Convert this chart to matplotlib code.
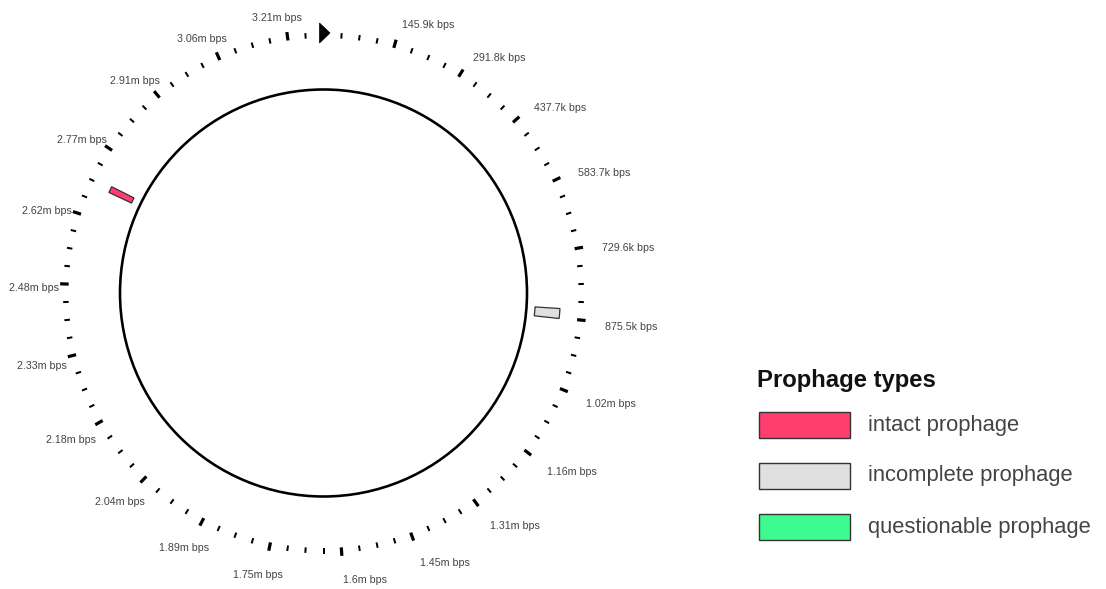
import numpy as np
import matplotlib
matplotlib.use("Agg")
import matplotlib.pyplot as plt
from matplotlib.patches import Polygon, Circle, Rectangle

# Genome and tick layout
genome_length = 3_282_750          # bp
minor_ticks_per_turn = 90
major_every = 4

tick_labels = [
    "145.9k bps", "291.8k bps", "437.7k bps", "583.7k bps", "729.6k bps",
    "875.5k bps", "1.02m bps", "1.16m bps", "1.31m bps", "1.45m bps",
    "1.6m bps", "1.75m bps", "1.89m bps", "2.04m bps", "2.18m bps",
    "2.33m bps", "2.48m bps", "2.62m bps", "2.77m bps", "2.91m bps",
    "3.06m bps", "3.21m bps",
]

# Prophage regions
prophage_start = [2_691_000, 855_000]
prophage_end = [2_705_000, 877_000]
prophage_type = ["intact", "incomplete"]

legend_types = ["intact", "incomplete", "questionable"]
legend_labels = ["intact prophage", "incomplete prophage", "questionable prophage"]
type_colors = {"intact": "#ff3d6e", "incomplete": "#e0e0e0", "questionable": "#3dfb8f"}

W, H = 1106, 589
CX, CY = 323.5, 293.0   # circle centre in pixels (from top-left)

fig = plt.figure(figsize=(W / 100, H / 100), dpi=100)
ax = fig.add_axes([0, 0, 1, 1])
ax.set_xlim(-CX, W - CX)
ax.set_ylim(-(H - CY), CY)
ax.axis("off")

PT = 72 / 100  # points per pixel


def bp_angle(bp):
    return 2 * np.pi * np.asarray(bp, dtype=float) / genome_length


def polar(r, theta):
    return r * np.sin(theta), r * np.cos(theta)


def px(x, y):
    return x - CX, CY - y


# backbone circle
ax.add_patch(Circle((0, 0), 203.5, fill=False, ec="black", lw=2.6 * PT))

# ticks
R_TICK_IN = 255.0
step = genome_length / minor_ticks_per_turn
for i in range(1, minor_ticks_per_turn):
    th = bp_angle(i * step)
    major = i % major_every == 0
    length = 8.5 if major else 5.5
    lw = 3.2 if major else 2.0
    x0, y0 = polar(R_TICK_IN, th)
    x1, y1 = polar(R_TICK_IN + length, th)
    ax.plot([x0, x1], [y0, y1], color="black", lw=lw * PT, solid_capstyle="butt")

# origin marker
ox, oy = polar(260.0, 0.0)
ax.add_patch(Polygon([(ox - 4, oy + 10), (ox - 4, oy - 10), (ox + 6.5, oy)],
                     closed=True, fc="black", ec="black", lw=0.5))

# tick labels
R_LAB = 283.0
for k, lab in enumerate(tick_labels, start=1):
    th = bp_angle(k * major_every * step)
    x, y = polar(R_LAB, th)
    if np.degrees(th) < 180:
        ax.text(x, y - 4.5, lab, ha="left", va="center", fontsize=7.7,
                family="Liberation Sans", color="#444444")
    else:
        ax.text(x + 18, y - 5, lab, ha="right", va="center", fontsize=7.7,
                family="Liberation Sans", color="#444444")

# prophage regions as annular sectors
R_IN, R_OUT = 212.0, 237.0
for s, e, t in zip(prophage_start, prophage_end, prophage_type):
    ths = np.linspace(bp_angle(s), bp_angle(e), 12)
    outer = [polar(R_OUT, a) for a in ths]
    inner = [polar(R_IN, a) for a in ths[::-1]]
    ax.add_patch(Polygon(outer + inner, closed=True, fc=type_colors[t],
                         ec="#333333", lw=0.9))

# legend
tx, ty = px(757, 381)
ax.text(tx, ty, "Prophage types", ha="left", va="center", fontsize=17.2,
        fontweight="bold", family="Liberation Sans", color="#111111")
box_tops = [412, 463, 514]
for top, t, lab in zip(box_tops, legend_types, legend_labels):
    bx, by = px(759, top + 25.5)
    ax.add_patch(Rectangle((bx, by), 91, 25.5, fc=type_colors[t], ec="#333333",
                           lw=1.4 * PT))
    lx, ly = px(868, top + 13)
    ax.text(lx, ly, lab, ha="left", va="center", fontsize=15.8,
            family="Liberation Sans", color="#444444")

fig.savefig("out.png", dpi=100, facecolor="white")
